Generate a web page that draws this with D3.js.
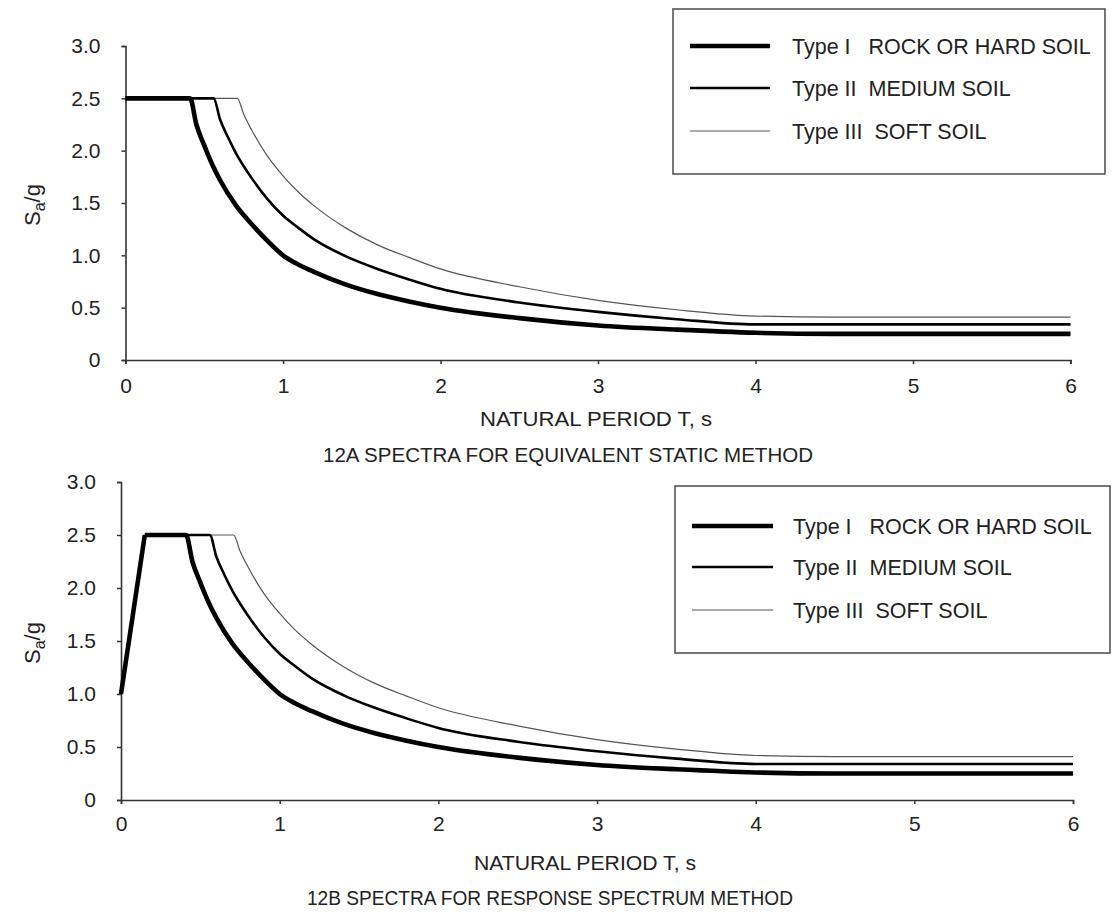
<!DOCTYPE html>
<html><head><meta charset="utf-8">
<script src="https://cdn.jsdelivr.net/npm/d3@7"></script>
<style>body{margin:0;background:#fff}svg{display:block}text{font-family:"Liberation Sans",Arial,sans-serif;fill:#222}</style>
</head><body>
<svg id="c" width="1113" height="914"></svg>
<script>
// ---- data ----
const typeI_T  = [0, 0.41, 0.45, 0.5, 0.55, 0.6, 0.7, 0.8, 0.9, 1.0, 1.1, 1.2, 1.4, 1.6, 1.8, 2.0, 2.5, 3.0, 3.5, 4.0, 4.5, 5.0, 6.0];
const typeI_Sa = [2.5, 2.5, 2.25, 2.05, 1.87, 1.72, 1.48, 1.3, 1.14, 1.0, 0.91, 0.84, 0.72, 0.63, 0.56, 0.5, 0.4, 0.33, 0.29, 0.26, 0.25, 0.25, 0.25];
const typeII_T  = [0, 0.56, 0.6, 0.65, 0.7, 0.8, 0.9, 1.0, 1.1, 1.2, 1.4, 1.6, 1.8, 2.0, 2.5, 3.0, 3.5, 4.0, 5.0, 6.0];
const typeII_Sa = [2.5, 2.5, 2.3, 2.13, 1.98, 1.74, 1.54, 1.38, 1.26, 1.15, 0.99, 0.87, 0.77, 0.68, 0.55, 0.46, 0.39, 0.34, 0.34, 0.34];
const typeIII_T  = [0, 0.71, 0.75, 0.8, 0.9, 1.0, 1.1, 1.2, 1.4, 1.6, 1.8, 2.0, 2.5, 3.0, 3.5, 4.0, 4.5, 5.0, 6.0];
const typeIII_Sa = [2.5, 2.5, 2.35, 2.2, 1.95, 1.76, 1.6, 1.47, 1.26, 1.1, 0.98, 0.87, 0.7, 0.57, 0.48, 0.42, 0.41, 0.41, 0.41];
// panel B: initial ramp shared by all soil types
const rampB_T  = [0, 0.15];
const rampB_Sa = [1.0, 2.5];
const xTicks = [0, 1, 2, 3, 4, 5, 6];
const yTicks = [0, 0.5, 1.0, 1.5, 2.0, 2.5, 3.0];
const yTickLabels = ["0", "0.5", "1.0", "1.5", "2.0", "2.5", "3.0"];
const seriesNames = ["Type I   ROCK OR HARD SOIL", "Type II  MEDIUM SOIL", "Type III  SOFT SOIL"];
const panelTitles = ["12A SPECTRA FOR EQUIVALENT STATIC METHOD", "12B SPECTRA FOR RESPONSE SPECTRUM METHOD"];
const xTitle = "NATURAL PERIOD T, s";

const styles = [
  {w: 4.6, c: "#000"},
  {w: 2.6, c: "#000"},
  {w: 1.2, c: "#555"}
];

const svg = d3.select("#c");
function zip(T, S){ return T.map((t,i)=>[t, S[i]]); }

function panel(cfg){
  const x = d3.scaleLinear().domain([0,6]).range([cfg.x0, cfg.x1]);
  const y = d3.scaleLinear().domain([0,3]).range([cfg.y0, cfg.y1]);
  const g = svg.append("g");

  const xa = g.append("g").attr("transform", `translate(0,${cfg.y0})`)
    .call(d3.axisBottom(x).tickValues(xTicks).tickSize(4).tickFormat(d3.format("d")));
  const ya = g.append("g").attr("transform", `translate(${cfg.x0},0)`)
    .call(d3.axisLeft(y).tickValues(yTicks).tickSize(4).tickFormat((d,i)=>yTickLabels[i]));
  [xa, ya].forEach(a=>{
    a.select(".domain").attr("stroke","#333").attr("stroke-width",1.6);
    a.selectAll(".tick line").attr("stroke","#333").attr("stroke-width",1.5);
    a.selectAll(".tick text").attr("font-size",21).attr("fill","#222")
      .style("font-family",'"Liberation Sans",Arial,sans-serif');
  });
  xa.selectAll(".tick text").attr("y",cfg.xly).attr("dy","0.71em");
  ya.selectAll(".tick text").attr("x",-25);

  const line = d3.line().x(d=>x(d[0])).y(d=>y(d[1])).curve(d3.curveMonotoneX);
  const lin = d3.line().x(d=>x(d[0])).y(d=>y(d[1]));
  const series = [zip(typeI_T,typeI_Sa), zip(typeII_T,typeII_Sa), zip(typeIII_T,typeIII_Sa)];
  const ramp = zip(rampB_T, rampB_Sa);
  [2,1,0].forEach(i=>{
    let d = series[i];
    if(cfg.ramp){
      d = [ramp[1]].concat(d.filter(p=>p[0] > rampB_T[1]));
      g.append("path").datum(ramp).attr("d", lin)
        .attr("fill","none").attr("stroke",styles[i].c).attr("stroke-width",styles[i].w)
        .attr("stroke-linejoin","round");
    }
    g.append("path").datum(d).attr("d", line)
      .attr("fill","none").attr("stroke",styles[i].c).attr("stroke-width",styles[i].w)
      .attr("stroke-linejoin","round");
  });

  // y label Sa/g
  const yl = g.append("text").attr("transform",`translate(${cfg.ylx},${cfg.yly}) rotate(-90)`)
    .attr("text-anchor","middle").attr("font-size",22).attr("fill","#333");
  yl.append("tspan").text("S");
  yl.append("tspan").attr("font-size",16).attr("dy",5).text("a");
  yl.append("tspan").attr("dy",-5).text("/g");

  g.append("text").attr("x",cfg.xtx).attr("y",cfg.xty).attr("text-anchor","middle")
    .attr("font-size",21).attr("textLength",cfg.xtw).attr("lengthAdjust","spacingAndGlyphs").text(xTitle);
  g.append("text").attr("x",cfg.stx).attr("y",cfg.sty).attr("text-anchor","middle")
    .attr("font-size",20).attr("textLength",cfg.stw).attr("lengthAdjust","spacingAndGlyphs").text(cfg.title);

  // legend
  const L = cfg.leg;
  g.append("rect").attr("x",L.x).attr("y",L.y).attr("width",L.w).attr("height",L.h)
    .attr("fill","#fff").attr("stroke","#555").attr("stroke-width",1.6);
  seriesNames.forEach((n,i)=>{
    const yy = L.ly[i];
    g.append("line").attr("x1",L.lx0).attr("x2",L.lx1).attr("y1",yy).attr("y2",yy)
      .attr("stroke",styles[i].c).attr("stroke-width",styles[i].w);
    g.append("text").attr("x",L.tx).attr("y",yy).attr("dy","0.35em")
      .attr("font-size",21.5).style("white-space","pre").attr("xml:space","preserve").text(n);
  });
}

panel({x0:125.5, x1:1070.5, y0:360, y1:46, ramp:false, xly:18,
  ylx:40, yly:205, xtx:596, xty:426, xtw:232, stx:568, sty:462, stw:490, title:panelTitles[0],
  leg:{x:673, y:9, w:432, h:165, lx0:690, lx1:770, ly:[46,88,131], tx:792}});
panel({x0:121, x1:1073, y0:800, y1:482, ramp:true, xly:16,
  ylx:40, yly:643, xtx:585, xty:870, xtw:222, stx:550, sty:905, stw:486, title:panelTitles[1],
  leg:{x:675, y:486, w:435, h:167, lx0:692, lx1:773, ly:[526,567,610], tx:793}});
</script>
</body></html>
